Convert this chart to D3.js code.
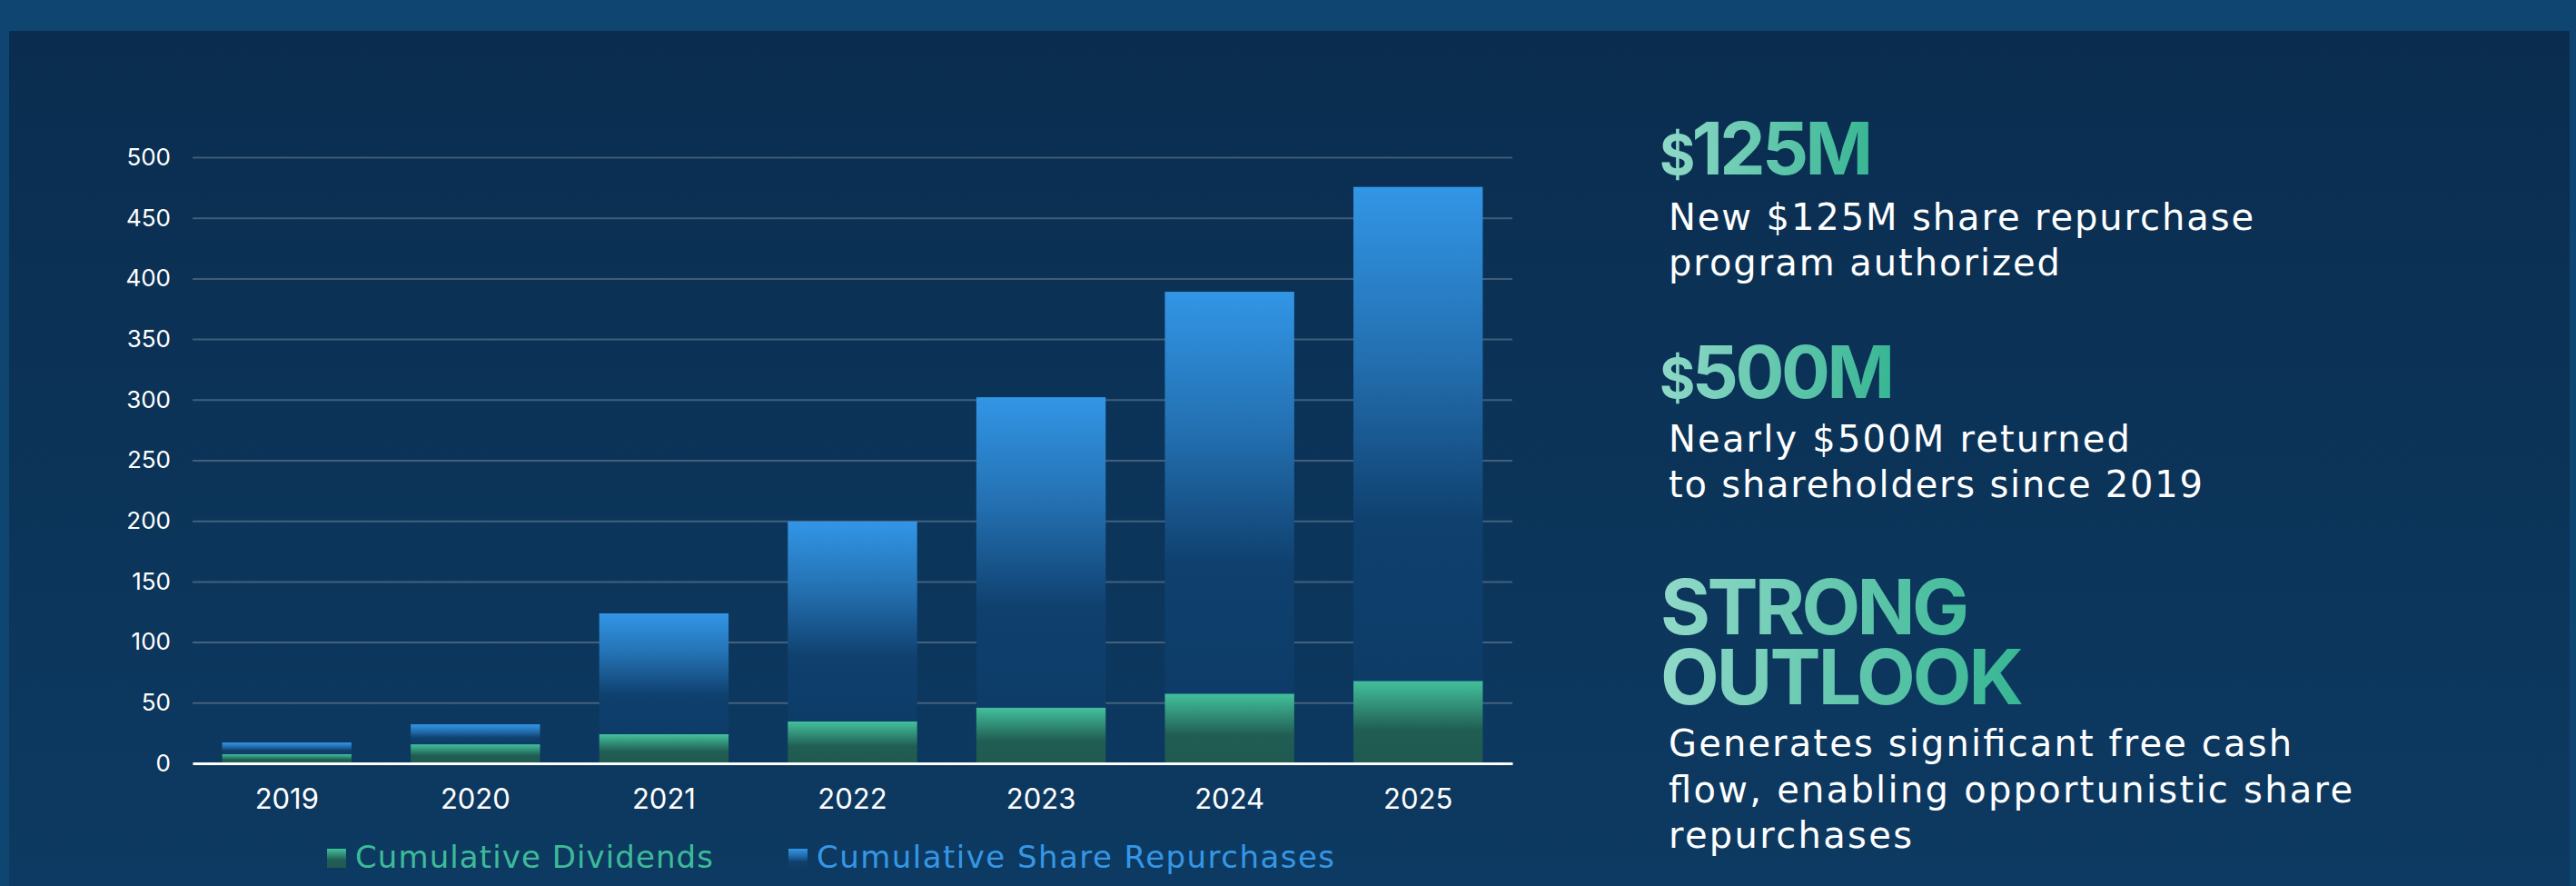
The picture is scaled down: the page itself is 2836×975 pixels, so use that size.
<!DOCTYPE html>
<html>
<head>
<meta charset="utf-8">
<script src="https://cdn.jsdelivr.net/npm/d3@7"></script>
<style>
  body { margin: 0; background: #0f4671; overflow: hidden; }
  svg { display: block; }
  text { font-family: Inter, "Open Sans", sans-serif; }
  .wide { font-family: "DejaVu Sans", Inter, sans-serif; }
  .grid line { stroke: #ffffff; stroke-opacity: 0.22; stroke-width: 2; }
</style>
</head>
<body>
<div id="chart"></div>
<script>
// chart values ($M cumulative)
var years = ["2019", "2020", "2021", "2022", "2023", "2024", "2025"];
var dividends = [7.5, 15.7, 24, 34.5, 46, 57.5, 68];
var repurchases = [9.7, 16.5, 99.7, 165, 256, 331.5, 407.5];
var yTicks = [0, 50, 100, 150, 200, 250, 300, 350, 400, 450, 500];
var seriesNames = ["Cumulative Dividends", "Cumulative Share Repurchases"];

// right hand call-outs
var callouts = [
    { head: ["$", "125M"], lines: ["New $125M share repurchase", "program authorized"] },
    { head: ["$", "500M"], lines: ["Nearly $500M returned", "to shareholders since 2019"] },
    { head: ["STRONG", "OUTLOOK"], lines: ["Generates significant free cash", "flow, enabling opportunistic share", "repurchases"] }
];

var svgWidth = 2836;
var svgHeight = 975;

var svg = d3.select("#chart").append("svg")
    .attr("width", svgWidth)
    .attr("height", svgHeight);

var defs = svg.append("defs");

function vGradient(id, stops) {
    var g = defs.append("linearGradient").attr("id", id)
        .attr("x1", 0).attr("y1", 0).attr("x2", 0).attr("y2", 1);
    stops.forEach(function (s) {
        g.append("stop").attr("offset", s[0]).attr("stop-color", s[1]);
    });
}

vGradient("panelGrad", [[0, "#0a2d4f"], [1, "#0d3a62"]]);
vGradient("blueGrad", [[0, "#3296e6"], [0.35, "#236fb0"], [0.68, "#0f406e"], [1, "#0d3c68"]]);
vGradient("greenGrad", [[0, "#43c19c"], [0.6, "#205d53"], [1, "#1f5a50"]]);

var headGrad = defs.append("linearGradient").attr("id", "headGrad")
    .attr("x1", 0).attr("y1", 0).attr("x2", 1).attr("y2", 0);
headGrad.append("stop").attr("offset", 0).attr("stop-color", "#90d9c8");
headGrad.append("stop").attr("offset", 1).attr("stop-color", "#37b693");

// frame + dark panel
svg.append("rect").attr("width", svgWidth).attr("height", svgHeight).attr("fill", "#0f4671");
svg.append("rect")
    .attr("x", 10).attr("y", 34)
    .attr("width", 2819).attr("height", svgHeight - 34)
    .attr("fill", "url(#panelGrad)");

// scales
var x = d3.scaleBand()
    .domain(years)
    .range([212, 1665])
    .paddingInner(0.314)
    .paddingOuter(0.157);

var y = d3.scaleLinear()
    .domain([0, 500])
    .range([840, 173]);

var chartGroup = svg.append("g");

// gridlines + y labels
var leftAxis = d3.axisLeft(y)
    .tickValues(yTicks)
    .tickSize(-(x.range()[1] - x.range()[0]))
    .tickPadding(24);

var yAxis = chartGroup.append("g")
    .attr("class", "grid")
    .attr("transform", `translate(${x.range()[0]}, 0)`)
    .call(leftAxis);

yAxis.select(".domain").remove();
yAxis.selectAll("text")
    .attr("fill", "#ffffff")
    .attr("font-size", "26px");

// stacked bars
var table = years.map(function (yr, i) {
    return { year: yr, div: dividends[i], rep: repurchases[i] };
});

var stacked = d3.stack().keys(["div", "rep"])(table);
var fills = ["url(#greenGrad)", "url(#blueGrad)"];

chartGroup.selectAll(".layer")
    .data(stacked)
    .enter()
    .append("g")
    .attr("class", "layer")
    .attr("fill", (d, i) => fills[i])
    .selectAll("rect")
    .data(d => d)
    .enter()
    .append("rect")
    .attr("x", d => x(d.data.year))
    .attr("y", d => y(d[1]))
    .attr("width", x.bandwidth())
    .attr("height", d => y(d[0]) - y(d[1]));

// x axis (white baseline drawn over bars)
var bottomAxis = d3.axisBottom(x).tickSize(0).tickPadding(28);

var xAxis = chartGroup.append("g")
    .attr("transform", `translate(0, ${y(0)})`)
    .call(bottomAxis);

xAxis.select(".domain")
    .attr("stroke", "#ffffff")
    .attr("stroke-width", 3);
xAxis.selectAll("text")
    .attr("fill", "#ffffff")
    .attr("font-size", "31px");

// legend
var legendItems = [
    { name: seriesNames[0], fill: "url(#greenGrad)", color: "#3dbb98", x: 360, w: 394 },
    { name: seriesNames[1], fill: "url(#blueGrad)", color: "#3597e5", x: 868, w: 570 }
];

var legend = chartGroup.selectAll(".legend")
    .data(legendItems)
    .enter()
    .append("g")
    .attr("class", "legend")
    .attr("transform", d => `translate(${d.x}, 934)`);

legend.append("rect")
    .attr("width", 21)
    .attr("height", 21)
    .attr("fill", d => d.fill);

legend.append("text")
    .attr("class", "wide")
    .attr("x", 31)
    .attr("y", 21)
    .attr("font-size", "34px")
    .attr("fill", d => d.color)
    .attr("textLength", d => d.w)
    .attr("lengthAdjust", "spacing")
    .text(d => d.name);

// right column text
var side = svg.append("g");

// $125M
var h1 = side.append("text")
    .attr("x", 1827).attr("y", 192)
    .attr("fill", "url(#headGrad)")
    .attr("font-weight", 700)
    .attr("textLength", 235)
    .attr("lengthAdjust", "spacing");
h1.append("tspan").attr("font-size", "60px").text(callouts[0].head[0]);
h1.append("tspan").attr("font-size", "80px").text(callouts[0].head[1]);

// $500M
var h2 = side.append("text")
    .attr("x", 1827).attr("y", 438)
    .attr("fill", "url(#headGrad)")
    .attr("font-weight", 700)
    .attr("textLength", 259)
    .attr("lengthAdjust", "spacing");
h2.append("tspan").attr("font-size", "60px").text(callouts[1].head[0]);
h2.append("tspan").attr("font-size", "80px").text(callouts[1].head[1]);

// STRONG / OUTLOOK as one block, two lines
var h3 = side.append("text")
    .attr("fill", "url(#headGrad)")
    .attr("font-weight", 700)
    .attr("font-size", "84px");
h3.append("tspan")
    .attr("x", 1828).attr("y", 698)
    .attr("textLength", 340)
    .attr("lengthAdjust", "spacing")
    .text(callouts[2].head[0]);
h3.append("tspan")
    .attr("x", 1828).attr("y", 775)
    .attr("textLength", 400)
    .attr("lengthAdjust", "spacing")
    .text(callouts[2].head[1]);

// body lines
var bodyLines = [
    { t: callouts[0].lines[0], y: 253, w: 644 },
    { t: callouts[0].lines[1], y: 303, w: 431 },
    { t: callouts[1].lines[0], y: 497, w: 508 },
    { t: callouts[1].lines[1], y: 547, w: 588 },
    { t: callouts[2].lines[0], y: 832, w: 686 },
    { t: callouts[2].lines[1], y: 883, w: 753 },
    { t: callouts[2].lines[2], y: 933, w: 268 }
];

side.selectAll(".body")
    .data(bodyLines)
    .enter()
    .append("text")
    .attr("class", "body wide")
    .attr("x", 1837)
    .attr("y", d => d.y)
    .attr("fill", "#ffffff")
    .attr("font-size", "40px")
    .attr("textLength", d => d.w)
    .attr("lengthAdjust", "spacing")
    .text(d => d.t);
</script>
</body>
</html>
